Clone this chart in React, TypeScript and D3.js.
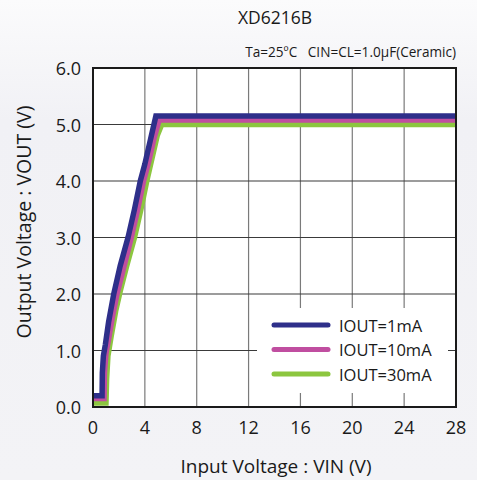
import React from "react";
import * as d3 from "d3";

const W = 477;
const H = 480;

const xTicks = [0, 4, 8, 12, 16, 20, 24, 28];
const yTicks = [0, 1, 2, 3, 4, 5, 6];

const seriesNames = ["IOUT=1mA", "IOUT=10mA", "IOUT=30mA"];
const seriesColors = ["#2e2f8a", "#c04ea0", "#8cc63f"];

const vin1 = [0, 0.7, 0.72, 0.8, 0.95, 1.2, 1.6, 2.1, 2.7, 3.2, 3.65, 4.0, 4.45, 4.85, 28];
const vout1 = [0.2, 0.2, 0.6, 0.9, 1.1, 1.5, 2.0, 2.5, 3.0, 3.5, 4.0, 4.3, 4.75, 5.15, 5.15];

const vin10 = [0, 0.85, 0.88, 1.0, 1.2, 1.5, 1.85, 2.4, 2.95, 3.45, 3.9, 4.3, 4.7, 5.1, 28];
const vout10 = [0.15, 0.15, 0.6, 0.95, 1.2, 1.6, 2.0, 2.5, 3.0, 3.5, 4.0, 4.35, 4.75, 5.08, 5.08];

const vin30 = [0, 1.0, 1.05, 1.15, 1.4, 1.75, 2.1, 2.6, 3.2, 3.7, 4.15, 4.55, 4.95, 5.3, 28];
const vout30 = [0.07, 0.07, 0.5, 0.9, 1.25, 1.7, 2.05, 2.5, 3.0, 3.5, 4.0, 4.4, 4.8, 5.0, 5.0];

const series = [
  { name: seriesNames[0], color: seriesColors[0], xs: vin1, ys: vout1 },
  { name: seriesNames[1], color: seriesColors[1], xs: vin10, ys: vout10 },
  { name: seriesNames[2], color: seriesColors[2], xs: vin30, ys: vout30 },
];

const FONT = "'Open Sans', 'DejaVu Sans', sans-serif";

export default function App() {
  const left = 93, right = 456, top = 68, bottom = 407;
  const x = d3.scaleLinear().domain([0, 28]).range([left, right]);
  const y = d3.scaleLinear().domain([0, 6]).range([bottom, top]);
  const line = d3
    .line<[number, number]>()
    .x((d) => x(d[0]))
    .y((d) => y(d[1]))
    .curve(d3.curveLinear);

  const drawOrder = [2, 1, 0];
  const legend = { x0: 257, y0: 308, w: 191, h: 85 };

  return (
    <div style={{ position: "fixed", left: 0, top: 0 }}>
      <svg width={W} height={H} style={{ display: "block" }}>
        <defs>
          <linearGradient id="bg" x1="0" y1="0" x2="0" y2="1">
            <stop offset="0" stopColor="#fbfbfc" />
            <stop offset="0.25" stopColor="#f1f1f5" />
            <stop offset="1" stopColor="#f3f3f6" />
          </linearGradient>
          <clipPath id="plot">
            <rect x={left} y={top} width={right - left} height={bottom - top} />
          </clipPath>
        </defs>
        <rect x={0} y={0} width={W} height={H} fill="url(#bg)" />
        <rect x={left} y={top} width={right - left} height={bottom - top} fill="#ffffff" />
        {xTicks.slice(1, -1).map((t) => (
          <line key={"gx" + t} x1={x(t)} x2={x(t)} y1={top} y2={bottom} stroke="#7a7a7a" strokeWidth={1.2} />
        ))}
        {yTicks.slice(1, -1).map((t) => (
          <line key={"gy" + t} x1={left} x2={right} y1={y(t)} y2={y(t)} stroke="#3a3a3a" strokeWidth={1.2} />
        ))}
        <rect x={legend.x0} y={legend.y0} width={legend.w} height={legend.h} fill="#ffffff" />
        <g clipPath="url(#plot)">
          {drawOrder.map((i) => {
            const s = series[i];
            const pts = s.xs.map((v, k) => [v, s.ys[k]] as [number, number]);
            return (
              <path
                key={s.name}
                d={line(pts) || ""}
                fill="none"
                stroke={s.color}
                strokeWidth={5.5}
                strokeLinejoin="miter"
              />
            );
          })}
        </g>
        <rect x={left} y={top} width={right - left} height={bottom - top} fill="none" stroke="#1a1a1a" strokeWidth={2} />
        {series.map((s, i) => (
          <g key={"lg" + i}>
            <line x1={274} x2={328} y1={325 + i * 24.5} y2={325 + i * 24.5} stroke={s.color} strokeWidth={5} strokeLinecap="round" />
            <text x={339} y={325 + i * 24.5} dominantBaseline="central" fontFamily={FONT} fontSize={16.5} fill="#1a1a1a">
              {s.name}
            </text>
          </g>
        ))}
        {yTicks.map((t) => (
          <text key={"yt" + t} x={81} y={y(t)} textAnchor="end" dominantBaseline="central" fontFamily={FONT} fontSize={18} fill="#1a1a1a">
            {t.toFixed(1)}
          </text>
        ))}
        {xTicks.map((t) => (
          <text key={"xt" + t} x={x(t)} y={427} textAnchor="middle" dominantBaseline="central" fontFamily={FONT} fontSize={18} fill="#1a1a1a">
            {t}
          </text>
        ))}
        <text x={275} y={24} textAnchor="middle" fontFamily={FONT} fontSize={17.5} fill="#1a1a1a">XD6216B</text>
        <text x={456} y={57} textAnchor="end" fontFamily={FONT} fontSize={13.6} fill="#1a1a1a" style={{ whiteSpace: "pre" }}>
          {"Ta=25ºC   CIN=CL=1.0µF(Ceramic)"}
        </text>
        <text x={276} y={473} textAnchor="middle" fontFamily={FONT} fontSize={19} fill="#1a1a1a">Input Voltage : VIN (V)</text>
        <text transform={`translate(31, 222) rotate(-90)`} textAnchor="middle" fontFamily={FONT} fontSize={19.5} fill="#1a1a1a">
          Output Voltage : VOUT (V)
        </text>
      </svg>
    </div>
  );
}
